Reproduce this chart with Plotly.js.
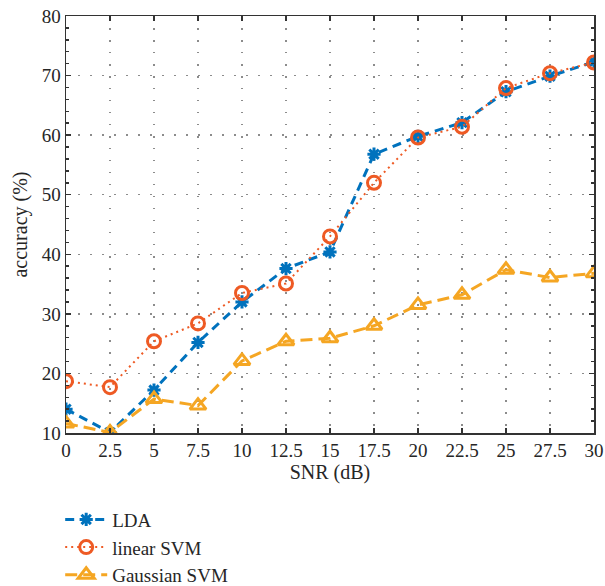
<!DOCTYPE html>
<html>
<head>
<meta charset="utf-8">
<script src="https://cdn.plot.ly/plotly-3.0.1.min.js"></script>
<style>
  html, body { margin: 0; padding: 0; background: #fff; }
  #chart { width: 605px; height: 586px; }
</style>
</head>
<body>
<div id="chart"></div>
<script>
// SNR levels in dB
const snr = [0, 2.5, 5, 7.5, 10, 12.5, 15, 17.5, 20, 22.5, 25, 27.5, 30];

// Classification accuracy (%) for each classifier
const ldaAcc = [14.0, 10.1, 17.2, 25.2, 32.0, 37.6, 40.4, 56.8, 59.8, 62.1, 67.3, 69.9, 72.3];
const linearSvmAcc = [18.7, 17.7, 25.4, 28.4, 33.5, 35.1, 43.0, 52.0, 59.6, 61.4, 67.9, 70.4, 72.2];
const gaussianSvmAcc = [11.6, 10.1, 15.7, 14.6, 22.1, 25.4, 25.9, 28.0, 31.5, 33.2, 37.4, 36.1, 36.8];

const xTicks = [0, 2.5, 5, 7.5, 10, 12.5, 15, 17.5, 20, 22.5, 25, 27.5, 30];
const xTickText = ['0', '2.5', '5', '7.5', '10', '12.5', '15', '17.5', '20', '22.5', '25', '27.5', '30'];
const yTicks = [10, 20, 30, 40, 50, 60, 70, 80];

const serif = 'Liberation Serif, DejaVu Serif, serif';
const ink = '#262626';

const traces = [
  {
    x: snr, y: ldaAcc, name: 'LDA', type: 'scatter', mode: 'lines+markers',
    line: { color: '#0072BD', width: 3, dash: '9px,6px' },
    marker: { symbol: 'asterisk-open', size: 11, color: '#0072BD', line: { color: '#0072BD', width: 3 } }
  },
  {
    x: snr, y: linearSvmAcc, name: 'linear SVM', type: 'scatter', mode: 'lines+markers',
    line: { color: '#EE5A24', width: 2, dash: '2px,4px' },
    marker: { symbol: 'circle-open', size: 13, color: '#EE5A24', line: { color: '#EE5A24', width: 3 } }
  },
  {
    x: snr, y: gaussianSvmAcc, name: 'Gaussian SVM', type: 'scatter', mode: 'lines+markers',
    line: { color: '#F5A623', width: 3, dash: '12px,6px' },
    marker: { symbol: 'triangle-up-open', size: 14, color: '#F5A623', line: { color: '#F5A623', width: 3 } }
  }
];

const axisCommon = {
  showline: true,
  linecolor: '#333',
  linewidth: 1.5,
  mirror: 'ticks',
  ticks: 'inside',
  ticklen: 5,
  tickwidth: 1.5,
  tickcolor: '#333',
  showgrid: true,
  gridcolor: '#8c8c8c',
  gridwidth: 1.5,
  griddash: '1.5px,10.5px',
  zeroline: false,
  tickfont: { family: serif, size: 19, color: ink }
};

const layout = {
  width: 605,
  height: 586,
  margin: { l: 66, r: 11, t: 16, b: 153, autoexpand: false },
  paper_bgcolor: '#fff',
  plot_bgcolor: '#fff',
  showlegend: true,
  xaxis: Object.assign({}, axisCommon, {
    range: [0, 30],
    tickvals: xTicks,
    ticktext: xTickText,
    title: { text: 'SNR (dB)', font: { family: serif, size: 20, color: ink }, standoff: 4 }
  }),
  yaxis: Object.assign({}, axisCommon, {
    range: [10, 80],
    tickvals: yTicks,
    minor: { dtick: 2, ticks: 'inside', ticklen: 3, tickcolor: '#333', showgrid: false },
    title: { text: 'accuracy (%)', font: { family: serif, size: 20, color: ink }, standoff: 8 }
  }),
  legend: {
    x: -0.011, xanchor: 'left',
    y: -0.162, yanchor: 'top',
    orientation: 'v',
    font: { family: serif, size: 19, color: ink },
    bgcolor: 'rgba(0,0,0,0)',
    tracegroupgap: 0,
    itemwidth: 42
  }
};

Plotly.newPlot('chart', traces, layout, { displayModeBar: false, staticPlot: true });
</script>
</body>
</html>
